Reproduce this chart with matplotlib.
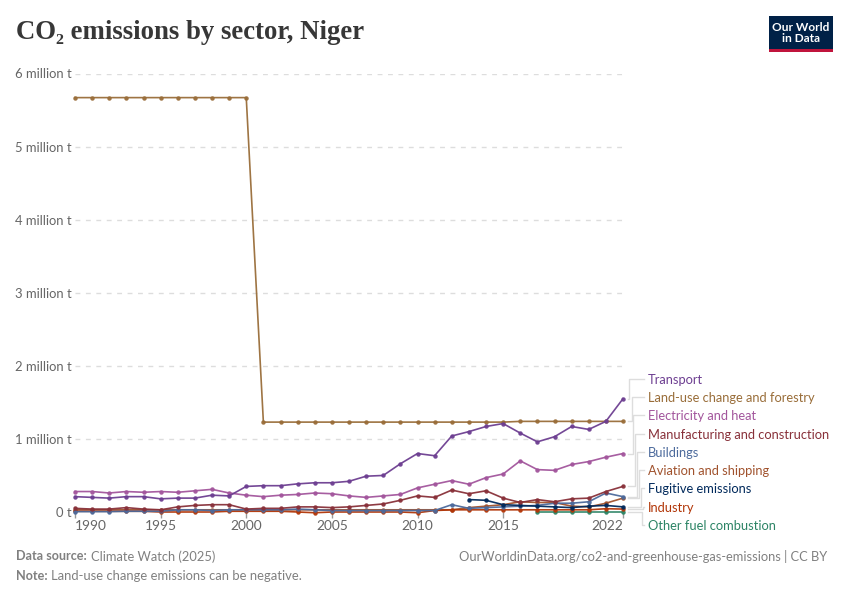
import matplotlib
matplotlib.use('Agg')
import matplotlib.pyplot as plt
import numpy as np
from matplotlib.lines import Line2D
from matplotlib.patches import Rectangle

nan = np.nan
W, H = 850, 600

# datos en millones de toneladas
years = list(range(1990, 2023))
transport = [.21, .20, .19, .21, .21, .18, .19, .19, .23, .22, .35, .36, .36, .385, .40, .40, .42, .49, .50, .66,
             .80, .77, 1.04, 1.10, 1.17, 1.21, 1.08, .96, 1.03, 1.17, 1.13, 1.24, 1.55]
land_use = [5.67] * 11 + [1.23] * 15 + [1.24] * 7
electricity = [.28, .28, .26, .28, .27, .28, .27, .29, .31, .26, .23, .21, .23, .24, .26, .25, .22, .20, .22, .24,
               .33, .38, .43, .38, .47, .52, .70, .58, .57, .65, .69, .75, .80]
manufacturing = [.05, .04, .04, .06, .04, .03, .07, .09, .10, .10, .04, .05, .05, .07, .07, .06, .07, .09, .11, .16,
                 .22, .20, .30, .25, .29, .19, .13, .17, .14, .18, .19, .28, .35]
buildings = [.005, .005, .005, .01, .01, .01, .03, .03, .02, .03, .03, .03, .03, .04, .03, .02, .02, .02, .02, .02,
             .02, .02, .10, .05, .06, .07, .08, .09, .12, .12, .14, .26, .21]
aviation = [.03, .03, .03, .03, .03, .03, .03, .03, .03, .03, .03, .03, .03, .03, .03, .03, .03, .03, .03, .03,
            .03, .03, .03, .06, .08, .10, .14, .13, .13, .08, .07, .12, .19]
fugitive = [nan] * 23 + [.17, .16, .10, .09, .08, .07, .06, .08, .09, .07]
industry = [.01, .01, .01, .01, .01, .00, .00, .00, .00, .01, .01, .01, .01, .00, -.01, .00, .00, .00, .00, .00,
            -.01, .02, .03, .03, .03, .03, .03, .03, .03, .03, .03, .045, .04]
other_fuel = [nan] * 27 + [.005, .005, .005, .005, .005, .005]

# del fondo hacia adelante
series = [
    ('Other fuel combustion', other_fuel, '#2c8465'),
    ('Aviation and shipping', aviation, '#a0522d'),
    ('Industry', industry, '#b13507'),
    ('Buildings', buildings, '#4c6a9c'),
    ('Fugitive emissions', fugitive, '#00295b'),
    ('Manufacturing and construction', manufacturing, '#883039'),
    ('Electricity and heat', electricity, '#a2559c'),
    ('Land-use change and forestry', land_use, '#996d39'),
    ('Transport', transport, '#6d3e91'),
]
label_y = {'Transport': 380, 'Land-use change and forestry': 398, 'Electricity and heat': 416,
           'Manufacturing and construction': 435, 'Buildings': 453, 'Aviation and shipping': 471,
           'Fugitive emissions': 489, 'Industry': 508, 'Other fuel combustion': 526}
elbow_x = {'Transport': 629, 'Land-use change and forestry': 632, 'Electricity and heat': 633,
           'Manufacturing and construction': 635, 'Buildings': 637, 'Aviation and shipping': 639,
           'Fugitive emissions': 641, 'Industry': 643, 'Other fuel combustion': 642}

plt.rcParams['font.family'] = ['Lato', 'DejaVu Sans']

fig = plt.figure(figsize=(W / 100, H / 100), dpi=100)
fig.patch.set_facecolor('white')

# ejes ubicados en pixeles: 1990 en x=75, 2022 en x=623, 0 en y=512, 6M en y=73.5
x0, x1, ytop, ybot = 75, 623, 73.5, 512
ax = fig.add_axes([x0 / W, 1 - ybot / H, (x1 - x0) / W, (ybot - ytop) / H])
ax.set_xlim(1990, 2022)
ax.set_ylim(0, 6)
ax.patch.set_alpha(0)
for s in ax.spines.values():
    s.set_visible(False)

ax.set_yticks([0, 1, 2, 3, 4, 5, 6])
ax.set_yticklabels(['0 t'] + [f'{i} million t' for i in range(1, 7)], fontsize=9.4, color='#666666')
ax.tick_params(axis='y', length=0, pad=2.5)
ax.set_xticks([1990, 1995, 2000, 2005, 2010, 2015, 2022])
ax.set_xticklabels(['1990', '1995', '2000', '2005', '2010', '2015', '2022'], fontsize=9.9, color='#666666')
ax.tick_params(axis='x', length=4, width=1, color='#999999', pad=2)
ticklabels = ax.get_xticklabels()
ticklabels[0].set_ha('left')
ticklabels[-1].set_ha('right')

for v in range(1, 7):
    ax.axhline(v, color='#dddddd', lw=1, dashes=(3.5, 4), zorder=0)

for name, vals, col in series:
    ax.plot(years, vals, color=col, lw=1.2, alpha=0.95, marker='o', ms=3.2, mew=0, clip_on=False, zorder=3)


def to_fig(px, py):
    return px / W, 1 - py / H


# etiquetas a la derecha con sus conectores
for name, vals, col in series:
    ly = label_y[name]
    fig.text(648 / W, 1 - ly / H, name, color=col, fontsize=9.3, va='center', ha='left')
    end_y = H - ax.transData.transform((2022, vals[-1]))[1]
    ex = elbow_x[name]
    xs = [628, ex, ex, 644]
    ys = [end_y, end_y, ly - 1, ly - 1]
    pts = [to_fig(a, b) for a, b in zip(xs, ys)]
    fig.add_artist(Line2D([p[0] for p in pts], [p[1] for p in pts], color='#dddddd', lw=1))

# titulo y pie
fig.text(16 / W, 1 - 32.5 / H, 'CO₂ emissions by sector, Niger', fontsize=19.3, fontweight='bold',
         family=['Liberation Serif', 'DejaVu Serif'], color='#373737', va='center')
fig.text(16 / W, 1 - 556.5 / H, 'Data source:', fontsize=9.1, fontweight='bold', color='#808080', va='center')
fig.text(91 / W, 1 - 556.5 / H, 'Climate Watch (2025)', fontsize=9.3, color='#808080', va='center')
fig.text(16 / W, 1 - 576.5 / H, 'Note:', fontsize=9.1, fontweight='bold', color='#808080', va='center')
fig.text(51 / W, 1 - 576.5 / H, 'Land-use change emissions can be negative.', fontsize=9.4, color='#808080', va='center')
fig.text(827 / W, 1 - 556.5 / H, 'OurWorldinData.org/co2-and-greenhouse-gas-emissions | CC BY', fontsize=9.3,
         color='#808080', va='center', ha='right')

# logo
fig.add_artist(Rectangle((769 / W, 1 - 52 / H), 64 / W, 36 / H, transform=fig.transFigure, color='#002147', lw=0))
fig.add_artist(Rectangle((769 / W, 1 - 52 / H), 64 / W, 3 / H, transform=fig.transFigure, color='#c0143c', lw=0))
fig.text(801 / W, 1 - 33 / H, 'Our World\nin Data', color='white', fontsize=8.6, fontweight='bold', ha='center',
         va='center', linespacing=1.0)

fig.savefig('out.png', dpi=100)
